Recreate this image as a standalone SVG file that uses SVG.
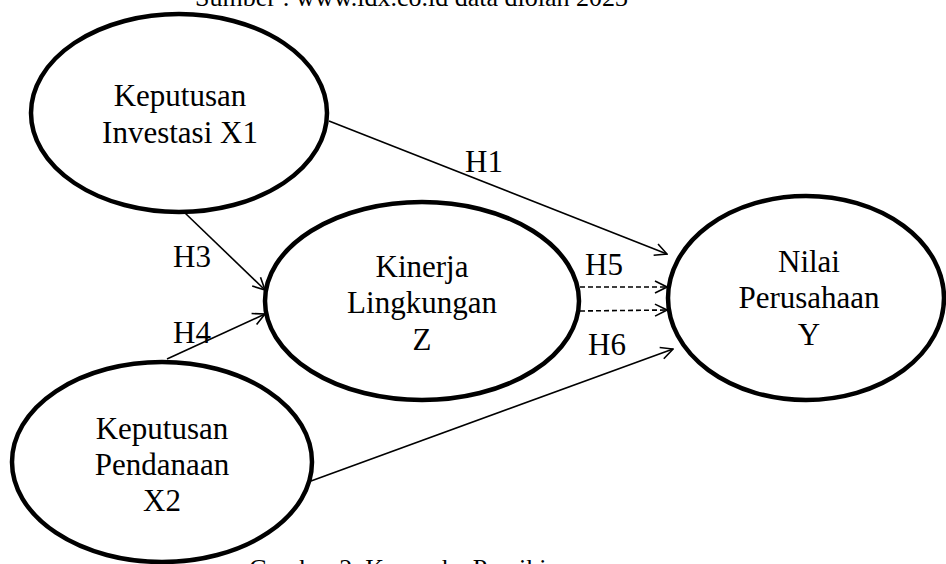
<svg xmlns="http://www.w3.org/2000/svg" width="946" height="564" viewBox="0 0 946 564">
<defs>
<style>
.node{fill:#fff;stroke:#000;stroke-width:4.5}
.t{font-family:"Liberation Serif","Times New Roman",serif;font-size:31px;fill:#000;text-anchor:middle}
.cap{font-family:"Liberation Serif","Times New Roman",serif;font-size:26px;fill:#000}
.lbl{font-family:"Liberation Serif","Times New Roman",serif;font-size:31px;fill:#000}
.c{stroke:#000;stroke-width:1.6;fill:none;marker-end:url(#ah)}
.d{stroke-dasharray:5,3}
</style>
<marker id="ah" markerUnits="userSpaceOnUse" viewBox="0 0 14 14" refX="13" refY="7" markerWidth="14" markerHeight="14" orient="auto">
<path d="M1,1 L13,7 L1,13" fill="none" stroke="#000" stroke-width="1.6"/>
</marker>
</defs>
<rect width="946" height="564" fill="#fff"/>
<text class="cap" x="195" y="6">Sumber : www.idx.co.id data diolah 2023</text>
<text class="cap" x="249" y="577">Gambar 2. Kerangka Pemikiran</text>
<g id="connectors">
<line class="c" x1="329" y1="121" x2="667" y2="254"/>
<line class="c" x1="185" y1="213" x2="265" y2="290"/>
<line class="c" x1="167" y1="359" x2="265" y2="314"/>
<line class="c d" x1="580" y1="287" x2="667" y2="287"/>
<line class="c d" x1="580" y1="311" x2="667" y2="310"/>
<line class="c" x1="311" y1="481" x2="673" y2="349"/>
</g>
<g id="labels">
<text class="lbl" x="465" y="172">H1</text>
<text class="lbl" x="472" y="373">H2</text>
<text class="lbl" x="173" y="267">H3</text>
<text class="lbl" x="173" y="343">H4</text>
<text class="lbl" x="585" y="275">H5</text>
<text class="lbl" x="588" y="355">H6</text>
</g>
<g id="x1">
<ellipse class="node" cx="179" cy="113" rx="148" ry="99"/>
<text class="t" x="180" y="106">Keputusan</text>
<text class="t" x="180" y="143">Investasi X1</text>
</g>
<g id="z">
<ellipse class="node" cx="422" cy="301" rx="157" ry="99"/>
<text class="t" x="422" y="277">Kinerja</text>
<text class="t" x="422" y="313">Lingkungan</text>
<text class="t" x="422" y="350">Z</text>
</g>
<g id="x2">
<ellipse class="node" cx="162" cy="462" rx="150" ry="100"/>
<text class="t" x="162" y="439">Keputusan</text>
<text class="t" x="162" y="475">Pendanaan</text>
<text class="t" x="162" y="511">X2</text>
</g>
<g id="y">
<ellipse class="node" cx="806" cy="298" rx="138" ry="102"/>
<text class="t" x="809" y="272">Nilai</text>
<text class="t" x="809" y="308">Perusahaan</text>
<text class="t" x="809" y="345">Y</text>
</g>
</svg>
